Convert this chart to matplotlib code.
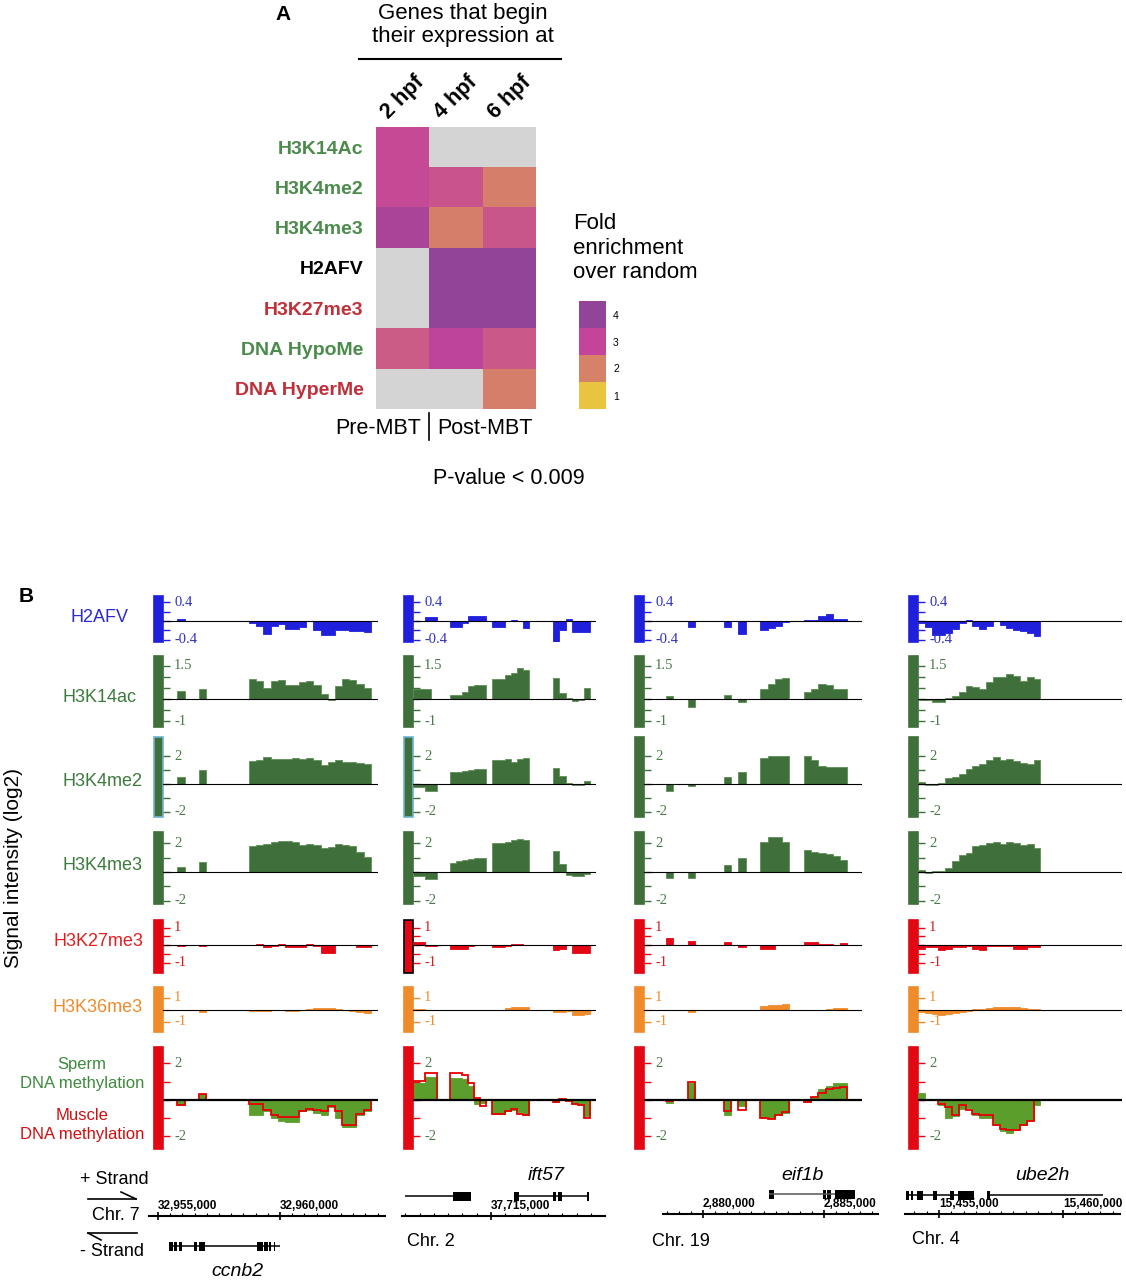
import numpy as np
import matplotlib
matplotlib.use("Agg")
import matplotlib.pyplot as plt
import matplotlib.transforms as mtransforms
from matplotlib.colors import LinearSegmentedColormap
from matplotlib.patches import Rectangle
from matplotlib.lines import Line2D
from matplotlib.ticker import MultipleLocator

plt.rcParams['font.family'] = ['Liberation Sans', 'DejaVu Sans']

W, H = 1126, 1280
NA = np.nan

# ---------------- panel A data ----------------
marks = ["H3K14Ac", "H3K4me2", "H3K4me3", "H2AFV", "H3K27me3", "DNA HypoMe", "DNA HyperMe"]
stages = ["2 hpf", "4 hpf", "6 hpf"]
fold_2hpf = [2.9, 2.9, 3.5, NA, NA, 2.6, NA]
fold_4hpf = [NA, 2.75, 2.05, 4.0, 4.0, 3.1, NA]
fold_6hpf = [NA, 2.05, 2.7, 4.0, 4.0, 2.65, 2.05]
legend_levels = [4, 3, 2, 1]

# ---------------- panel B data (bins of equal width per locus) ----------------
track_names = ["H2AFV", "H3K14ac", "H3K4me2", "H3K4me3", "H3K27me3", "H3K36me3", "methylation"]

COL1_BINS = [2, 5, 12, 13, 14, 15, 16, 17, 18, 19, 20, 21, 22, 23, 24, 25, 26, 27, 28]
COL1_H2AFV = [0.04, 0.01, -0.04, -0.1, -0.27, -0.1, -0.06, -0.18, -0.18, -0.12, 0.01, -0.2, -0.29, -0.29, -0.2, -0.2, -0.21, -0.22, -0.23]
COL1_H3K14AC = [0.35, 0.44, 0.92, 0.8, 0.5, 0.8, 0.88, 0.65, 0.62, 0.77, 0.82, 0.65, 0.24, -0.05, 0.6, 0.92, 0.88, 0.68, 0.5]
COL1_H3K4ME2 = [0.54, 1.0, 1.66, 1.75, 1.95, 1.83, 1.8, 1.8, 1.9, 1.8, 1.9, 1.7, 1.35, 1.56, 1.7, 1.62, 1.6, 1.5, 1.44]
COL1_H3K4ME3 = [0.33, 0.72, 1.77, 1.9, 1.95, 2.05, 2.16, 2.15, 2.1, 1.84, 1.95, 1.9, 1.65, 1.7, 1.95, 1.9, 1.8, 1.4, 1.07]
COL1_H3K27ME3 = [-0.03, -0.03, 0.02, 0.08, -0.08, -0.04, 0.05, -0.1, -0.12, -0.12, 0.06, -0.05, -0.45, -0.45, -0.02, 0.0, -0.02, -0.08, -0.08]
COL1_H3K36ME3 = [-0.03, -0.18, -0.12, -0.12, -0.08, -0.06, 0.02, -0.08, -0.1, -0.02, 0.06, 0.15, 0.18, 0.15, 0.1, 0.0, -0.08, -0.2, -0.3]
COL1_SPERM = [-0.3, 0.3, -0.8, -0.8, -0.6, -1.0, -1.15, -1.2, -1.2, -0.6, -0.55, -0.7, -0.8, -0.4, -1.0, -1.5, -1.5, -0.8, -0.6]
COL1_MUSCLE = [-0.3, 0.3, -0.2, -0.22, -0.55, -0.85, -0.95, -0.95, -0.95, -0.6, -0.5, -0.55, -0.6, -0.35, -0.6, -1.4, -1.4, -0.75, -0.55]

COL2_BINS = [0, 1, 2, 3, 4, 5, 6, 7, 8, 9, 10, 11, 13, 14, 15, 16, 17, 18, 23, 24, 25, 26, 27, 28]
COL2_H2AFV = [NA, NA, 0.08, 0.08, NA, NA, -0.12, -0.12, -0.04, 0.1, 0.1, 0.1, -0.12, -0.12, 0.0, 0.03, 0.0, -0.15, -0.45, -0.2, 0.04, -0.24, -0.24, -0.24]
COL2_H3K14AC = [0.45, 0.44, 0.44, 0.02, NA, NA, 0.2, 0.2, 0.3, 0.6, 0.65, 0.65, 0.9, 0.9, 1.1, 1.2, 1.4, 1.3, 0.93, 0.25, 0.05, -0.1, -0.05, 0.5]
COL2_H3K4ME2 = [-0.25, -0.25, -0.5, -0.5, NA, NA, 0.85, 0.9, 0.95, 1.0, 1.05, 1.08, 1.75, 1.75, 1.8, 1.6, 1.8, 1.88, 1.15, 0.6, 0.05, -0.08, -0.05, 0.2]
COL2_H3K4ME3 = [-0.3, -0.3, -0.5, -0.5, NA, NA, 0.6, 0.75, 0.85, 0.9, 0.95, 1.0, 2.0, 2.0, 2.1, 2.2, 2.3, 2.25, 1.45, 0.55, -0.2, -0.3, -0.3, -0.15]
COL2_H3K27ME3 = [0.15, 0.15, -0.03, -0.03, NA, NA, -0.25, -0.25, -0.25, -0.05, 0.02, 0.02, -0.08, -0.08, -0.03, 0.06, 0.07, -0.02, -0.3, -0.25, 0.0, -0.45, -0.45, -0.45]
COL2_H3K36ME3 = [0.03, 0.03, -0.05, -0.05, NA, NA, -0.03, -0.04, -0.05, -0.03, -0.04, -0.02, 0.0, 0.02, 0.15, 0.2, 0.22, 0.2, -0.2, -0.2, -0.12, -0.4, -0.4, -0.35]
COL2_SPERM = [0.9, 0.9, 1.25, 1.25, 0.0, 0.0, 1.2, 1.2, 1.15, 0.75, -0.2, -0.15, -0.75, -0.75, -0.6, -0.55, -0.65, -0.85, -0.1, 0.05, 0.0, -0.25, -0.3, -0.9]
COL2_MUSCLE = [1.05, 1.05, 1.45, 1.45, 0.0, 0.0, 1.5, 1.5, 1.35, 0.9, 0.1, -0.35, -0.75, -0.75, -0.6, -0.5, -0.75, -0.8, -0.1, 0.05, -0.05, -0.22, -0.3, -1.0]

COL3_BINS = [3, 6, 11, 13, 16, 17, 18, 19, 22, 23, 24, 25, 26, 27]
COL3_H2AFV = [0.01, -0.12, -0.12, -0.28, -0.2, -0.15, -0.1, -0.03, 0.03, 0.02, 0.1, 0.15, 0.05, 0.05]
COL3_H3K14AC = [0.13, -0.35, 0.2, -0.15, 0.45, 0.7, 0.9, 0.95, 0.3, 0.45, 0.7, 0.65, 0.45, 0.45]
COL3_H3K4ME2 = [-0.5, -0.12, 0.5, 0.85, 1.9, 2.0, 2.05, 2.05, 2.05, 1.7, 1.3, 1.2, 1.2, 1.2]
COL3_H3K4ME3 = [-0.4, -0.4, 0.45, 0.95, 2.05, 2.4, 2.45, 2.1, 1.55, 1.4, 1.35, 1.25, 1.1, 0.8]
COL3_H3K27ME3 = [0.4, 0.25, 0.2, -0.12, -0.25, -0.25, 0.02, 0.02, 0.18, 0.18, 0.06, 0.05, 0.03, 0.1]
COL3_H3K36ME3 = [-0.05, -0.2, 0.0, 0.0, 0.3, 0.35, 0.38, 0.5, 0.02, 0.02, 0.02, 0.05, 0.15, 0.15]
COL3_SPERM = [-0.15, 0.95, -0.85, -0.35, -1.0, -1.0, -0.85, -0.7, -0.1, 0.15, 0.6, 0.75, 0.9, 0.9]
COL3_MUSCLE = [-0.05, 1.0, -0.6, -0.55, -1.0, -1.05, -0.8, -0.65, -0.1, 0.15, 0.4, 0.6, 0.65, 0.7]

COL4_BINS = [0, 1, 2, 3, 4, 5, 6, 7, 8, 9, 10, 11, 12, 13, 14, 15, 16, 17]
COL4_H2AFV = [-0.05, -0.12, -0.3, -0.3, -0.25, -0.17, -0.05, 0.03, -0.1, -0.18, -0.1, 0.01, -0.08, -0.15, -0.2, -0.22, -0.25, -0.32]
COL4_H3K14AC = [-0.05, -0.05, -0.12, -0.12, 0.05, 0.15, 0.3, 0.6, 0.55, 0.45, 0.75, 1.0, 1.0, 1.15, 1.05, 0.8, 1.0, 0.9]
COL4_H3K4ME2 = [0.15, -0.05, -0.05, 0.05, 0.4, 0.5, 0.75, 1.05, 1.3, 1.45, 1.75, 1.95, 1.75, 1.8, 1.65, 1.5, 1.45, 1.75]
COL4_H3K4ME3 = [0.1, -0.05, 0.03, 0.05, 0.3, 0.75, 1.15, 1.35, 1.8, 1.85, 2.0, 2.05, 1.95, 2.05, 2.0, 1.9, 1.95, 1.65]
COL4_H3K27ME3 = [-0.2, -0.1, -0.1, -0.3, -0.25, -0.12, -0.08, -0.05, -0.25, -0.3, -0.05, -0.03, -0.03, -0.03, -0.25, -0.25, -0.1, -0.1]
COL4_H3K36ME3 = [-0.15, -0.25, -0.35, -0.4, -0.35, -0.25, -0.15, -0.1, 0.05, 0.1, 0.15, 0.2, 0.22, 0.25, 0.25, 0.15, 0.1, 0.1]
COL4_SPERM = [0.4, 0.0, 0.0, -0.3, -1.0, -0.9, -0.5, -0.45, -0.8, -1.0, -1.0, -1.4, -1.7, -1.8, -1.65, -1.4, -1.1, -0.3]
COL4_MUSCLE = [0.0, 0.0, 0.0, -0.2, -0.4, -0.85, -0.3, -0.55, -0.75, -0.85, -0.85, -1.35, -1.6, -1.65, -1.65, -1.4, -1.15, 0.0]

# gene models (bp)
chromosomes = ["Chr. 7", "Chr. 2", "Chr. 19", "Chr. 4"]
gene_windows = [(32954631, 32964303), (37711885, 37718990), (2878347, 2887231), (15453630, 15462294)]
CCNB2_SPAN = (32955451, 32960000)
CCNB2_EXON_STARTS = [32955451, 32955676, 32955840, 32956475, 32956680, 32959057, 32959344, 32959549, 32959754]
CCNB2_EXON_ENDS = [32955615, 32955779, 32955963, 32956598, 32956906, 32959303, 32959508, 32959631, 32959795]
UPSTREAM_CHR2_SPAN = (37711990, 37714300)
UPSTREAM_CHR2_EXON_STARTS = [37713670, 37714160]
UPSTREAM_CHR2_EXON_ENDS = [37714160, 37714300]
IFT57_SPAN = (37715805, 37718430)
IFT57_EXON_STARTS = [37715805, 37717170, 37717345, 37718360]
IFT57_EXON_ENDS = [37715980, 37717275, 37717485, 37718430]
EIF1B_SPAN = (2882726, 2885452)
EIF1B_EXON_STARTS = [2882726, 2884956, 2885121, 2885452]
EIF1B_EXON_ENDS = [2882932, 2885080, 2885286, 2886278]
UPSTREAM_CHR4_SPAN = (15453670, 15456411)
UPSTREAM_CHR4_EXON_STARTS = [15453670, 15453872, 15454113, 15454758, 15455443, 15455766]
UPSTREAM_CHR4_EXON_ENDS = [15453791, 15453952, 15454355, 15454919, 15455605, 15456411]
UBE2H_SPAN = (15456934, 15461609)
UBE2H_EXON_STARTS = [15456934]
UBE2H_EXON_ENDS = [15457055]

fig = plt.figure(figsize=(W / 100, H / 100), dpi=100)


def px_axes(x0, y0, x1, y1):
    return fig.add_axes([x0 / W, 1 - y1 / H, (x1 - x0) / W, (y1 - y0) / H])


def ftext(x, y, s, **kw):
    return fig.text(x / W, 1 - y / H, s, **kw)


def fline(xs, ys, **kw):
    fig.add_artist(Line2D([x / W for x in xs], [1 - y / H for y in ys], **kw))


# ================= panel A =================
cmap = LinearSegmentedColormap.from_list(
    "fold", [(0, "#e8c440"), (1 / 3, "#d68269"), (2 / 3, "#c4449a"), (1, "#924498")])
cmap = cmap.with_extremes(bad="#d4d4d4")
fold = np.array([fold_2hpf, fold_4hpf, fold_6hpf]).T

axh = px_axes(376, 127, 536, 409)
axh.imshow(np.ma.masked_invalid(fold), cmap=cmap, vmin=1, vmax=4, aspect="auto",
           interpolation="nearest")
axh.set_yticks(range(len(marks)), marks, fontsize=14, fontweight="bold")
mark_colors = ["#4b8b4b", "#4b8b4b", "#4b8b4b", "black", "#c0303a", "#4b8b4b", "#c0303a"]
for lbl, c in zip(axh.get_yticklabels(), mark_colors):
    lbl.set_color(c)
axh.xaxis.tick_top()
axh.set_xticks(range(len(stages)), stages, fontsize=15.5, fontweight="bold", rotation=45,
               ha="center")
shift = mtransforms.ScaledTranslation(5 / 72, 0, fig.dpi_scale_trans)
for lbl in axh.get_xticklabels():
    lbl.set_transform(lbl.get_transform() + shift)
axh.tick_params(length=0, pad=9)
axh.tick_params(axis="x", pad=3)
for s in axh.spines.values():
    s.set_visible(False)

ftext(283, 14, "A", fontsize=15, fontweight="bold", ha="center", va="center")
ftext(463, 25, "Genes that begin\ntheir expression at", fontsize=16, ha="center",
      va="center", linespacing=1.1)
fline([359, 561], [59, 59], color="black", lw=1.5)
ftext(421, 429, "Pre-MBT", fontsize=15.5, ha="right", va="center")
ftext(437, 429, "Post-MBT", fontsize=15.5, ha="left", va="center")
fline([429, 429], [413, 440], color="black", lw=1.2)
ftext(433, 478, "P-value < 0.009", fontsize=15.5, ha="left", va="center")
ftext(573, 248, "Fold\nenrichment\nover random", fontsize=16, ha="left", va="center",
      linespacing=1.2)

axc = px_axes(579, 301, 606, 409)
axc.imshow(np.array(legend_levels, dtype=float)[:, None], cmap=cmap, vmin=1, vmax=4,
           aspect="auto")
axc.set_xticks([])
axc.yaxis.tick_right()
axc.set_yticks(range(len(legend_levels)), [str(v) for v in legend_levels], fontsize=7.5)
axc.tick_params(length=0, pad=5)
for s in axc.spines.values():
    s.set_visible(False)

# ================= panel B =================
ftext(26, 597, "B", fontsize=15, fontweight="bold", ha="center", va="center")
ftext(14, 868, "Signal intensity (log2)", fontsize=15, rotation=90, ha="center",
      va="center")

blue = "#2020dc"
hgreen = "#3f6f3b"
red = "#e30613"
orange = "#f08b2b"
mgreen = "#5c9e2c"

row_fill = [blue, hgreen, hgreen, hgreen, red, orange, mgreen]
row_edge = [blue, "#5f8f55", "#5f8f55", "#5f8f55", red, orange, mgreen]
row_bar = [blue, hgreen, hgreen, hgreen, red, orange, red]
row_tick = [blue, hgreen, hgreen, hgreen, red, orange, red]
row_lab = ["#3030c0", "#4a7a4a", "#4a7a4a", "#4a7a4a", "#d02020", "#f08b2b", "#4a7a4a"]
row_y = [(596, 642), (656, 727), (737, 817), (832, 904), (920, 973), (987, 1032), (1047, 1149)]
row_ylim = [(-0.45, 0.535), (-1.27, 1.95), (-2.39, 3.4), (-2.24, 2.78), (-1.6, 1.44),
            (-1.83, 1.87), (-2.69, 2.9)]
row_ticks = [[-0.4, -0.2, 0, 0.2, 0.4], [-1, -0.5, 0, 0.5, 1, 1.5], [-2, -1, 0, 1, 2],
             [-2, -1, 0, 1, 2], [-1, -0.5, 0, 0.5, 1], [-1, 0, 1], [-2, -1, 0, 1, 2]]
row_ticklabels = [("0.4", "-0.4"), ("1.5", "-1"), ("2", "-2"), ("2", "-2"), ("1", "-1"),
                  ("1", "-1"), ("2", "-2")]
col_x = [(163, 378), (413, 596), (644, 862), (918, 1122)]
BAR_W = 9.5
N_BINS = 30

columns = [
    (COL1_BINS, [COL1_H2AFV, COL1_H3K14AC, COL1_H3K4ME2, COL1_H3K4ME3, COL1_H3K27ME3,
                 COL1_H3K36ME3], COL1_SPERM, COL1_MUSCLE),
    (COL2_BINS, [COL2_H2AFV, COL2_H3K14AC, COL2_H3K4ME2, COL2_H3K4ME3, COL2_H3K27ME3,
                 COL2_H3K36ME3], COL2_SPERM, COL2_MUSCLE),
    (COL3_BINS, [COL3_H2AFV, COL3_H3K14AC, COL3_H3K4ME2, COL3_H3K4ME3, COL3_H3K27ME3,
                 COL3_H3K36ME3], COL3_SPERM, COL3_MUSCLE),
    (COL4_BINS, [COL4_H2AFV, COL4_H3K14AC, COL4_H3K4ME2, COL4_H3K4ME3, COL4_H3K27ME3,
                 COL4_H3K36ME3], COL4_SPERM, COL4_MUSCLE),
]


def runs(bins, vals):
    out, cb, cv = [], [], []
    for b, v in zip(bins, vals):
        if cb and (np.isnan(v) or b != cb[-1] + 1):
            out.append((cb, cv))
            cb, cv = [], []
        if not np.isnan(v):
            cb.append(b)
            cv.append(v)
    if cb:
        out.append((cb, cv))
    return out


for ci, (bins, hist_tracks, sperm, muscle) in enumerate(columns):
    x0, x1 = col_x[ci]
    for ri in range(7):
        y0, y1 = row_y[ri]
        ax = px_axes(x0, y0, x1, y1)
        ax.set_xlim(0, N_BINS)
        ax.set_ylim(*row_ylim[ri])
        for s in ax.spines.values():
            s.set_visible(False)
        ax.set_xticks([])
        # coloured scale bar on the left
        edge = row_bar[ri]
        if ri == 2 and ci in (0, 1):
            edge = "#6cb4d4"
        if ri == 4 and ci == 1:
            edge = "black"
        bw = BAR_W / (x1 - x0)
        ax.add_patch(Rectangle((-bw, 0), bw, 1, transform=ax.transAxes, clip_on=False,
                               facecolor=row_bar[ri], edgecolor=edge, lw=1.2))
        ax.set_yticks(row_ticks[ri])
        ax.tick_params(axis="y", direction="in", length=5, width=1, colors=row_tick[ri],
                       labelleft=False)
        trans = mtransforms.offset_copy(ax.get_yaxis_transform(), fig=fig, x=8,
                                        units="points")
        top_lab, bot_lab = row_ticklabels[ri]
        for lab, val in ((top_lab, max(row_ticks[ri])), (bot_lab, min(row_ticks[ri]))):
            ax.text(0, val, lab, transform=trans, ha="left", va="center", fontsize=10.5,
                    family=["Liberation Serif", "DejaVu Serif"], color=row_lab[ri])
        if ri < 6:
            for rb, rv in runs(bins, hist_tracks[ri]):
                ax.stairs(rv, np.arange(rb[0], rb[-1] + 2), baseline=0, fill=True,
                          facecolor=row_fill[ri], edgecolor=row_edge[ri], lw=0.6)
            ax.axhline(0, color="black", lw=0.8, zorder=3)
        else:
            for rb, rv in runs(bins, sperm):
                ax.stairs(rv, np.arange(rb[0], rb[-1] + 2), baseline=0, fill=True,
                          facecolor=mgreen, edgecolor=mgreen, lw=0.6)
            for rb, rv in runs(bins, muscle):
                ax.stairs(rv, np.arange(rb[0], rb[-1] + 2), baseline=0, fill=False,
                          edgecolor="#e80000", lw=1.3)
            ax.axhline(0, color="black", lw=1.6, zorder=3)

# row labels
row_label_specs = [
    (100, 617, "H2AFV", "#2a2ad0", 13),
    (100, 697, "H3K14ac", "#3d7a3d", 13),
    (103, 781, "H3K4me2", "#3d7a3d", 13),
    (103, 866, "H3K4me3", "#3d7a3d", 13),
    (98, 941, "H3K27me3", "#e02020", 13),
    (98, 1008, "H3K36me3", "#f08b2b", 13),
    (82, 1074, "Sperm\nDNA methylation", "#3d8a3d", 12),
    (82, 1125, "Muscle\nDNA methylation", "#d01010", 12),
]
for x, y, s, c, fs in row_label_specs:
    ftext(x, y, s, color=c, fontsize=fs, ha="center", va="center", linespacing=1.3)

# ================= gene annotations =================
gene_axes_x = [(149, 385), (402, 605), (663, 878), (905, 1120)]
ruler_y = [1216, 1216, 1214, 1214]
genes = [
    [(1246, CCNB2_SPAN, CCNB2_EXON_STARTS, CCNB2_EXON_ENDS, "black")],
    [(1196, UPSTREAM_CHR2_SPAN, UPSTREAM_CHR2_EXON_STARTS, UPSTREAM_CHR2_EXON_ENDS, "black"),
     (1196, IFT57_SPAN, IFT57_EXON_STARTS, IFT57_EXON_ENDS, "black")],
    [(1194, EIF1B_SPAN, EIF1B_EXON_STARTS, EIF1B_EXON_ENDS, "#555555")],
    [(1195, UPSTREAM_CHR4_SPAN, UPSTREAM_CHR4_EXON_STARTS, UPSTREAM_CHR4_EXON_ENDS, "black"),
     (1195, UBE2H_SPAN, UBE2H_EXON_STARTS, UBE2H_EXON_ENDS, "black")],
]

for ci in range(4):
    gx0, gx1 = gene_axes_x[ci]
    ax = px_axes(gx0, 1160, gx1, 1280)
    lo, hi = gene_windows[ci]
    ax.set_xlim(lo, hi)
    ax.set_ylim(1280, 1160)
    for s in ("left", "right", "bottom"):
        ax.spines[s].set_visible(False)
    ax.spines["top"].set_position(("data", ruler_y[ci]))
    ax.spines["top"].set_linewidth(1.5)
    ax.xaxis.set_ticks_position("top")
    majors = np.arange(np.ceil(lo / 5000) * 5000, hi, 5000)
    ax.set_xticks(majors, [f"{v:,.0f}" for v in majors], ha="left", fontweight="bold",
                  fontsize=8.5)
    ax.xaxis.set_minor_locator(MultipleLocator(500))
    ax.tick_params(axis="x", which="major", direction="inout", length=6, width=1.2, pad=0)
    ax.tick_params(axis="x", which="minor", direction="out", length=2.5, width=0.8)
    ax.set_yticks([])
    ax.patch.set_visible(False)
    for gy, span, starts, ends, lc in genes[ci]:
        ax.hlines(gy, span[0], span[1], color=lc, lw=1.1)
        ax.broken_barh([(s, e - s) for s, e in zip(starts, ends)], (gy - 4.5, 9),
                       facecolors="black")

ftext(92, 1215, chromosomes[0], fontsize=13, ha="left", va="center")
ftext(407, 1242, chromosomes[1], fontsize=13, ha="left", va="center")
ftext(652, 1241, chromosomes[2], fontsize=13, ha="left", va="center")
ftext(912, 1239, chromosomes[3], fontsize=13, ha="left", va="center")

ftext(237, 1271, "ccnb2", fontsize=14, style="italic", ha="center", va="center")
ftext(546, 1176, "ift57", fontsize=14, style="italic", ha="center", va="center")
ftext(803, 1176, "eif1b", fontsize=14, style="italic", ha="center", va="center")
ftext(1042, 1176, "ube2h", fontsize=14, style="italic", ha="center", va="center")

ftext(80, 1180, "+ Strand", fontsize=13, ha="left", va="center")
ftext(80, 1252, "- Strand", fontsize=13, ha="left", va="center")
fline([88, 136], [1199, 1199], color="black", lw=1.2)
fline([121, 136], [1192, 1199], color="black", lw=1.2)
fline([88, 137], [1233, 1233], color="black", lw=1.2)
fline([88, 101], [1233, 1240], color="black", lw=1.2)

fig.savefig("out.png", dpi=100)
